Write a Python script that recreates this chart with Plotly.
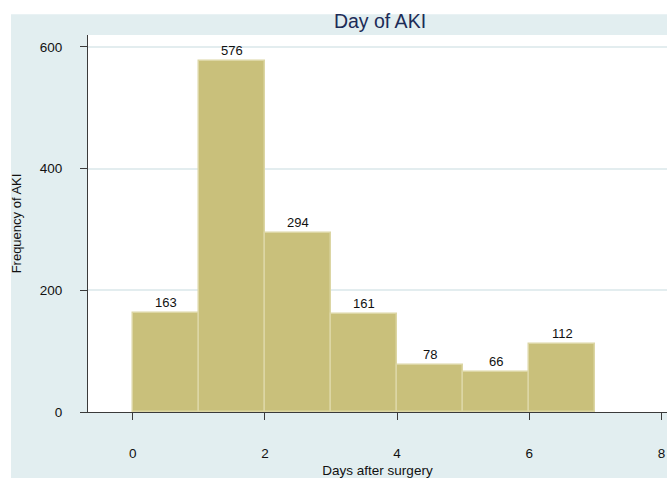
import plotly.graph_objects as go

bin_starts = [0, 1, 2, 3, 4, 5, 6]
counts = [163, 576, 294, 161, 78, 66, 112]
bin_width = 1
x_ticks = [0, 2, 4, 6, 8]
y_ticks = [0, 200, 400, 600]
title_text = "Day of AKI"
x_title = "Days after surgery"
y_title = "Frequency of AKI"

FONT = "Liberation Sans, Arial, sans-serif"
BAND = "#e2eef0"
W, H = 667, 478
L, R, T = 88, 0, 35
B = H - 416
pw = W - L - R
ph = H - T - B
X0PX = 132.7
PXU = 66.1

fig = go.Figure()
fig.add_trace(go.Bar(
    x=bin_starts, y=counts, width=bin_width, offset=0,
    marker=dict(color="#c9c07b", line=dict(color="#dcd6a4", width=1.5)),
    hoverinfo="x+y", showlegend=False,
))

annotations = []
for b, c in zip(bin_starts, counts):
    annotations.append(dict(
        x=b + bin_width / 2, y=c, xref="x", yref="y", text=str(c),
        showarrow=False, yanchor="bottom", yshift=1,
        font=dict(family=FONT, size=13, color="#111111"),
    ))

shapes = [
    dict(type="rect", xref="paper", yref="paper", layer="below",
         x0=(11 - L) / pw, x1=1.05, y0=-0.3, y1=1 + (T - 14) / ph,
         fillcolor=BAND, line=dict(width=0)),
    dict(type="rect", xref="paper", yref="paper", layer="below",
         x0=0, x1=1.05, y0=0, y1=1,
         fillcolor="white", line=dict(width=0)),
]

fig.update_layout(
    width=W, height=H,
    margin=dict(l=L, r=R, t=T, b=B, pad=0),
    paper_bgcolor="white",
    plot_bgcolor="rgba(0,0,0,0)",
    font=dict(family=FONT, size=13, color="#111111"),
    title=dict(text=title_text, x=380 / W, xanchor="center", xref="container",
               y=1 - 21.5 / H, yanchor="middle", yref="container",
               font=dict(family=FONT, size=19.5, color="#1c2b57")),
    shapes=shapes,
    annotations=annotations,
    bargap=0,
)
fig.update_xaxes(
    range=[(L - X0PX) / PXU, (W - X0PX) / PXU],
    tickmode="array", tickvals=x_ticks, ticktext=[str(v) for v in x_ticks],
    showgrid=False, zeroline=False,
    showline=True, linecolor="#3a3a3a", linewidth=1,
    ticks="outside", ticklen=7, tickcolor="#3a3a3a", tickwidth=1,
    ticklabelstandoff=22,
    tickfont=dict(family=FONT, size=13.5, color="#111111"),
    title=dict(text=x_title, standoff=7, font=dict(family=FONT, size=13.5, color="#111111")),
)
fig.update_yaxes(
    range=[0, 619.5],
    tickmode="array", tickvals=y_ticks, ticktext=[str(v) for v in y_ticks],
    showgrid=True, gridcolor="#e3edef", gridwidth=1.5, zeroline=False,
    showline=True, linecolor="#3a3a3a", linewidth=1,
    ticks="outside", ticklen=7, tickcolor="#3a3a3a", tickwidth=1,
    ticklabelstandoff=15,
    tickfont=dict(family=FONT, size=13.5, color="#111111"),
    title=dict(text=y_title, standoff=15, font=dict(family=FONT, size=13, color="#111111")),
)

fig.write_html(
    "out.html",
    config={"displayModeBar": False},
    post_script="document.body.style.margin='0px';document.body.style.overflow='hidden';",
)
